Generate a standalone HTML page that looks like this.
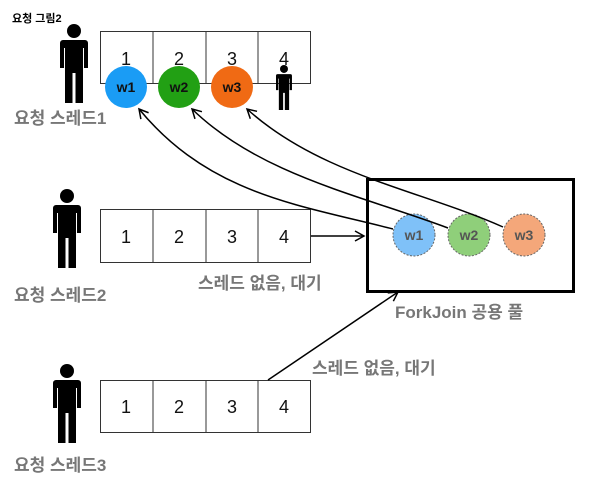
<!DOCTYPE html>
<html><head><meta charset="utf-8"><style>
body{margin:0;background:#fff;}
svg{display:block;font-family:"Liberation Sans","Noto Sans CJK KR",sans-serif;}
</style></head><body>
<svg width="592" height="485" viewBox="0 0 592 485">
<defs>
<marker id="a" markerWidth="12" markerHeight="12" refX="10" refY="6" orient="auto" markerUnits="userSpaceOnUse">
<path d="M1,1 L10,6 L1,11" fill="none" stroke="#000" stroke-width="1.5"/></marker>
<g id="p">
<circle cx="14" cy="7" r="7" fill="#000"/>
<path d="M3,16 h22 a3,3 0 0 1 3,3 v25 h-4 v-20 h-1 v55 h-7.5 v-30 h-3 v30 h-7.5 v-55 h-1 v20 h-4 v-25 a3,3 0 0 1 3,-3z" fill="#000"/>
</g>
</defs>
<text x="12" y="22" font-size="11" font-weight="bold">요청 그림2</text>
<g fill="none" stroke="#333" stroke-width="1">
<rect x="100.5" y="31.5" width="210" height="52"/><path d="M153 31v52M206 31v52M258 31v52"/>
<rect x="100.5" y="209.5" width="210" height="53"/><path d="M153 209v53M206 209v53M258 209v53"/>
<rect x="100.5" y="380.5" width="210" height="52"/><path d="M153 380v52M206 380v52M258 380v52"/>
</g>
<g font-size="18" text-anchor="middle" fill="#111">
<text x="126" y="65">1</text><text x="179" y="65">2</text><text x="232" y="65">3</text><text x="284" y="65">4</text>
<text x="126" y="243">1</text><text x="179" y="243">2</text><text x="232" y="243">3</text><text x="284" y="243">4</text>
<text x="126" y="413">1</text><text x="179" y="413">2</text><text x="232" y="413">3</text><text x="284" y="413">4</text>
</g>
<use href="#p" transform="translate(60,24)"/>
<use href="#p" transform="translate(53,189)"/>
<use href="#p" transform="translate(53,364)"/>
<use href="#p" transform="translate(276,65) scale(0.57)"/>
<g font-size="17" font-weight="bold" fill="#777">
<text x="14" y="124">요청 스레드1</text>
<text x="14" y="301">요청 스레드2</text>
<text x="14" y="471">요청 스레드3</text>
<text x="198" y="289">스레드 없음, 대기</text>
<text x="312" y="374">스레드 없음, 대기</text>
<text x="395" y="318">ForkJoin 공용 풀</text>
</g>
<circle cx="126" cy="87" r="21" fill="#1a9cf5"/>
<circle cx="179" cy="87" r="21" fill="#22a014"/>
<circle cx="232" cy="87" r="21" fill="#f06a14"/>
<g font-size="14" font-weight="bold" text-anchor="middle" fill="#111"><text x="126" y="92">w1</text><text x="179" y="92">w2</text><text x="232" y="92">w3</text></g>
<rect x="367.5" y="179.5" width="206" height="112" fill="none" stroke="#000" stroke-width="3"/>
<g stroke="#666" stroke-width="1" stroke-dasharray="2,1.5">
<circle cx="414" cy="235" r="21" fill="#7fc1f8"/>
<circle cx="469" cy="235" r="21" fill="#8fcf7a"/>
<circle cx="524" cy="235" r="21" fill="#f4a77a"/>
</g>
<g font-size="14" font-weight="bold" text-anchor="middle" fill="#555"><text x="414" y="240">w1</text><text x="469" y="240">w2</text><text x="524" y="240">w3</text></g>
<g fill="none" stroke="#000" stroke-width="1.5" marker-end="url(#a)">
<path d="M393,229 C300,205 210,195 139,109"/>
<path d="M448,228 C360,195 260,175 192,109"/>
<path d="M503,227 C420,190 320,175 247,109"/>
<path d="M311,236 H364"/>
<path d="M268,380 L398,292"/>
</g>
</svg>
</body></html>
